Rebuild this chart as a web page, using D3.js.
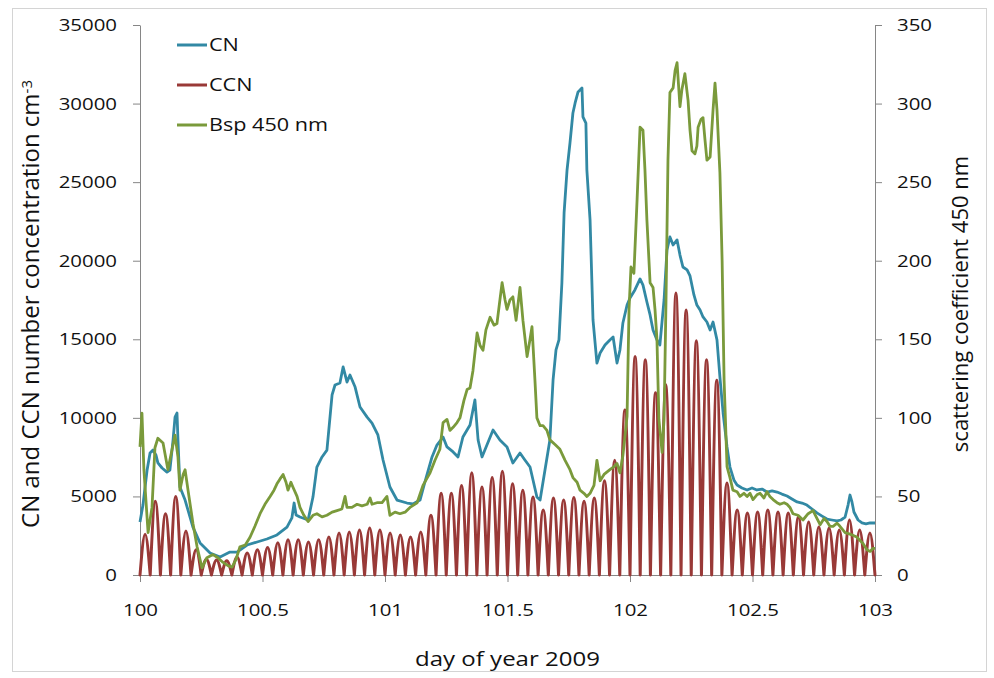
<!DOCTYPE html>
<html>
<head>
<meta charset="utf-8">
<script src="https://cdn.jsdelivr.net/npm/d3@7"></script>
<style>
  body { margin: 0; background: #fff; }
  svg text { font-family: "Open Sans", "Noto Sans", sans-serif; fill: #111; }
</style>
</head>
<body>
<svg></svg>
<script>
// Data
var xTicks = [100, 100.5, 101, 101.5, 102, 102.5, 103];
var leftTicks = [0, 5000, 10000, 15000, 20000, 25000, 30000, 35000];
var rightTicks = [0, 50, 100, 150, 200, 250, 300, 350];
var seriesNames = ["CN", "CCN", "Bsp 450 nm"];

// CN, [day of year, cm-3]
var cnData = [
  [100.000,3370],[100.012,4450],[100.029,6680],[100.041,7760],[100.053,7950],[100.065,7640],
  [100.073,7130],[100.090,6810],[100.110,6550],[100.122,6680],[100.135,8590],[100.143,10050],
  [100.151,10310],[100.155,8590],[100.163,5600],[100.184,4770],[100.216,3050],[100.245,2040],
  [100.286,1400],[100.327,1150],[100.367,1460],[100.396,1460],[100.437,1910],[100.478,2100],
  [100.518,2290],[100.559,2550],[100.600,3050],[100.620,3630],[100.629,4580],[100.637,3820],
  [100.653,3690],[100.686,3500],[100.706,4960],[100.722,6870],[100.743,7510],[100.763,7950],
  [100.784,11460],[100.796,12090],[100.816,12220],[100.829,13240],[100.845,12280],[100.857,12730],
  [100.878,11960],[100.898,10690],[100.927,10050],[100.947,9670],[100.971,8910],[100.992,7320],
  [101.020,5600],[101.049,4770],[101.090,4580],[101.114,4520],[101.143,4770],[101.163,5920],
  [101.192,7510],[101.212,8270],[101.237,8780],[101.253,8150],[101.278,7830],[101.298,7510],
  [101.318,8780],[101.347,9550],[101.367,11140],[101.380,8590],[101.396,7510],[101.416,8270],
  [101.441,9230],[101.469,8590],[101.498,8150],[101.522,7130],[101.551,7760],[101.571,7320],
  [101.592,6870],[101.620,4960],[101.633,4770],[101.653,6680],[101.673,8590],[101.686,12410],
  [101.698,14320],[101.710,14960],[101.722,18580],[101.731,23040],[101.743,25770],[101.755,27490],
  [101.767,29400],[101.776,30040],[101.788,30740],[101.796,30860],[101.804,30990],[101.808,29150],
  [101.820,28760],[101.824,25770],[101.837,22590],[101.849,16230],[101.865,13490],[101.878,14130],
  [101.898,14640],[101.918,14960],[101.931,15150],[101.947,13490],[101.959,14320],[101.971,16040],
  [101.988,17180],[102.000,17630],[102.020,18140],[102.041,18840],[102.053,18450],[102.069,17370],
  [102.082,16550],[102.094,15590],[102.110,14960],[102.122,14640],[102.139,17500],[102.151,20680],
  [102.163,21510],[102.176,21000],[102.192,21320],[102.204,20360],[102.216,19600],[102.233,19410],
  [102.245,19030],[102.261,17820],[102.273,17180],[102.286,16860],[102.298,16420],[102.314,16100],
  [102.327,15590],[102.339,16100],[102.355,14960],[102.367,12600],[102.380,10310],[102.396,8150],
  [102.408,6870],[102.424,6050],[102.437,5730],[102.457,5540],[102.478,5410],[102.498,5540],
  [102.518,5410],[102.539,5470],[102.559,5280],[102.580,5350],[102.600,5280],[102.620,5150],
  [102.641,5030],[102.661,4840],[102.682,4650],[102.702,4580],[102.722,4450],[102.743,4200],
  [102.763,3950],[102.784,3750],[102.804,3560],[102.824,3500],[102.845,3440],[102.861,3500],
  [102.878,3690],[102.890,4450],[102.898,5090],[102.906,4650],[102.914,4010],[102.931,3500],
  [102.947,3310],[102.963,3250],[102.980,3310],[103.000,3310]
];

// CCN, peak of each hourly supersaturation cycle (cm-3), day 100 00h onwards
var ccnPeaks = [
  2600, 4700, 3900, 5000, 2800, 1600, 1000, 950, 900, 1150, 1400, 1600,
  1750, 2050, 2250, 2250, 2100, 2250, 2420, 2670, 2740, 2860, 2990, 2860,
  2670, 2540, 2420, 2740, 3800, 5200, 5200, 5700, 6500, 5600, 6200, 6600,
  5800, 5400, 4960, 4140, 4900, 4770, 4930, 4700, 4900, 6000, 7300, 10500,
  13900, 13700, 11600, 12100, 17950, 16860, 14900, 13700, 12400, 5850, 4140, 3950,
  4010, 4140, 4010, 3940, 3690, 3370, 3050, 2990, 2860, 3500, 2860, 2670
];
var ccnStartDay = 100;
var ccnCycleDays = 1 / 24;

// Bsp 450 nm, [day of year, scattering coefficient]
var bspData = [
  [100.000,81.5],[100.008,103],[100.016,67],[100.024,48],[100.033,27],[100.041,35],[100.049,43],
  [100.061,81],[100.073,87],[100.094,84],[100.114,67],[100.131,80],[100.143,89],[100.155,75],
  [100.163,54],[100.176,64],[100.184,67],[100.196,54],[100.216,33],[100.233,18],[100.253,4.5],
  [100.273,11],[100.298,13],[100.318,11],[100.339,8],[100.359,6],[100.376,5],[100.392,10],
  [100.408,18],[100.429,19],[100.449,24],[100.469,31],[100.490,39],[100.510,45],[100.531,50],
  [100.547,54],[100.559,58],[100.571,61],[100.584,64],[100.596,59],[100.604,54],[100.616,59],
  [100.624,56],[100.641,50],[100.653,43],[100.669,38],[100.686,34],[100.706,38],[100.722,39],
  [100.743,37],[100.763,38],[100.784,40],[100.804,41],[100.824,42],[100.837,50],[100.845,43],
  [100.865,43],[100.886,45],[100.906,44],[100.927,45],[100.939,49],[100.947,45],[100.967,46],
  [100.988,46],[101.008,50],[101.020,38],[101.041,40],[101.061,39],[101.082,40],[101.102,43],
  [101.131,46],[101.155,57],[101.184,65],[101.204,73],[101.224,80],[101.237,97],[101.253,99],
  [101.265,92],[101.278,94],[101.294,97],[101.306,100],[101.322,111],[101.335,118],[101.347,119],
  [101.359,130],[101.376,154],[101.388,146],[101.400,143],[101.412,156],[101.429,164],[101.445,159],
  [101.457,160],[101.469,175],[101.478,186],[101.490,175],[101.498,169],[101.510,175],[101.522,177],
  [101.535,162],[101.551,183],[101.563,162],[101.580,139],[101.592,150],[101.600,158],[101.612,124],
  [101.620,100],[101.633,95],[101.645,95],[101.661,92],[101.673,86],[101.694,83],[101.714,80],
  [101.735,73],[101.755,67],[101.767,62],[101.784,59],[101.796,54],[101.812,52],[101.824,50],
  [101.837,52],[101.853,57],[101.865,73],[101.878,60],[101.894,64],[101.918,67],[101.935,69],
  [101.947,71],[101.959,65],[101.971,76],[101.988,101],[101.996,169],[102.004,196],[102.016,192],
  [102.029,239],[102.041,285],[102.053,283],[102.061,258],[102.069,226],[102.082,186],[102.094,183],
  [102.102,169],[102.110,150],[102.118,99],[102.131,78],[102.139,99],[102.147,175],[102.155,264],
  [102.163,307],[102.176,310],[102.184,321],[102.192,326],[102.204,298],[102.212,309],[102.224,319],
  [102.237,302],[102.245,283],[102.253,270],[102.265,268],[102.273,273],[102.278,285],[102.290,290],
  [102.298,291],[102.306,277],[102.314,264],[102.327,266],[102.339,296],[102.347,313],[102.355,296],
  [102.367,256],[102.376,200],[102.384,124],[102.396,69],[102.408,62],[102.420,54],[102.437,53],
  [102.449,50],[102.465,52],[102.478,50],[102.490,52],[102.502,48],[102.518,51],[102.531,52],
  [102.547,49],[102.559,53],[102.571,50],[102.584,48],[102.600,46],[102.612,45],[102.629,46],
  [102.641,45],[102.653,43],[102.665,39],[102.686,38],[102.706,35],[102.727,39],[102.747,41],
  [102.763,36],[102.776,32],[102.792,36],[102.804,34],[102.816,31],[102.829,31],[102.845,33],
  [102.857,31],[102.878,27],[102.898,26],[102.914,25],[102.927,24],[102.939,22],[102.951,20],
  [102.967,16],[102.980,15],[102.992,17],[103.000,17]
];

var colors = {CN: "#3289a4", CCN: "#993937", Bsp: "#7a9a3b"};

var margin = {top: 25, right: 119, bottom: 103, left: 140},
    width = 994 - margin.left - margin.right,
    height = 678 - margin.top - margin.bottom;

var root = d3.select("svg")
    .attr("width", 994)
    .attr("height", 678);

// outer chart frame
root.append("rect")
    .attr("x", 12.5).attr("y", 8.5)
    .attr("width", 974).attr("height", 663)
    .attr("fill", "none")
    .attr("stroke", "#d4d4d4");

var svg = root.append("g")
    .attr("transform", "translate(" + margin.left + "," + margin.top + ")");

var x = d3.scaleLinear().domain([100, 103]).range([0, width]);
var yL = d3.scaleLinear().domain([0, 35000]).range([height, 0]);
var yR = d3.scaleLinear().domain([0, 350]).range([height, 0]);

// axes
var axisColor = "#868686";
var gx = svg.append("g")
    .attr("transform", "translate(0," + height + ")")
    .call(d3.axisBottom(x).tickValues(xTicks).tickSize(7).tickSizeOuter(0).tickPadding(22)
        .tickFormat(d3.format("")));
var gl = svg.append("g")
    .call(d3.axisLeft(yL).tickValues(leftTicks).tickSize(7).tickSizeOuter(0).tickPadding(16)
        .tickFormat(d3.format("d")));
var gr = svg.append("g")
    .attr("transform", "translate(" + width + ",0)")
    .call(d3.axisRight(yR).tickValues(rightTicks).tickSize(7).tickSizeOuter(0).tickPadding(15)
        .tickFormat(d3.format("d")));

[gx, gl, gr].forEach(function(g) {
    g.select(".domain").attr("stroke", axisColor);
    g.selectAll(".tick line").attr("stroke", axisColor);
    g.selectAll(".tick text")
        .style("font-size", "17px")
        .attr("fill", "#111");
});

// lines
var lineL = d3.line()
    .x(function(d) { return x(d[0]); })
    .y(function(d) { return yL(d[1]); });
var lineR = d3.line()
    .x(function(d) { return x(d[0]); })
    .y(function(d) { return yR(d[1]); });
var arc = d3.line()
    .x(function(d) { return x(d[0]); })
    .y(function(d) { return yL(d[1]); })
    .curve(d3.curveMonotoneX);

svg.append("path")
    .attr("d", lineL(cnData))
    .attr("fill", "none")
    .attr("stroke", colors.CN)
    .attr("stroke-width", 2.8)
    .attr("stroke-linejoin", "round");

// CCN: each hourly scan rises from zero to its peak and back
var ccnPath = "";
ccnPeaks.forEach(function(p, i) {
    var t0 = ccnStartDay + i * ccnCycleDays;
    ccnPath += arc([[t0, 0], [t0 + ccnCycleDays / 2, p], [t0 + ccnCycleDays, 0]]);
});
svg.append("path")
    .attr("d", ccnPath)
    .attr("fill", "none")
    .attr("stroke", colors.CCN)
    .attr("stroke-width", 3)
    .attr("stroke-linecap", "round")
    .attr("stroke-linejoin", "round");

svg.append("path")
    .attr("d", lineR(bspData))
    .attr("fill", "none")
    .attr("stroke", colors.Bsp)
    .attr("stroke-width", 2.8)
    .attr("stroke-linejoin", "round");

// legend
var legendColors = [colors.CN, colors.CCN, colors.Bsp];
var legend = svg.selectAll(".legend")
    .data(seriesNames)
    .join("g")
    .attr("class", "legend")
    .attr("transform", function(d, i) { return "translate(37," + (20 + i * 40) + ")"; });
legend.append("line")
    .attr("x1", 0).attr("x2", 30)
    .attr("stroke", function(d, i) { return legendColors[i]; })
    .attr("stroke-width", 3);
legend.append("text")
    .attr("x", 32)
    .attr("dy", "0.35em")
    .style("font-size", "18px")
    .text(function(d) { return d; });

// axis titles
svg.append("text")
    .attr("class", "stretch")
    .attr("x", width / 2)
    .attr("y", height + 91)
    .attr("text-anchor", "middle")
    .style("font-size", "20px")
    .text("day of year 2009");

var lt = svg.append("text")
    .attr("transform", "translate(-101," + (height / 2 + 4) + ") rotate(-90)")
    .attr("text-anchor", "middle")
    .style("font-size", "24px");
lt.append("tspan").text("CN and CCN number concentration cm");
lt.append("tspan").attr("dy", "-0.5em").style("font-size", "15px").text("-3");

svg.append("text")
    .attr("transform", "translate(" + (width + 93) + "," + (height / 2 + 4) + ") rotate(-90)")
    .attr("text-anchor", "middle")
    .style("font-size", "22px")
    .text("scattering coefficient 450 nm");

// the reference renders horizontal text a little wide
root.selectAll(".tick text, .legend text, text.stretch").each(function() {
    var w = this.getComputedTextLength();
    d3.select(this).attr("textLength", w * 1.2).attr("lengthAdjust", "spacingAndGlyphs");
});
</script>
</body>
</html>
